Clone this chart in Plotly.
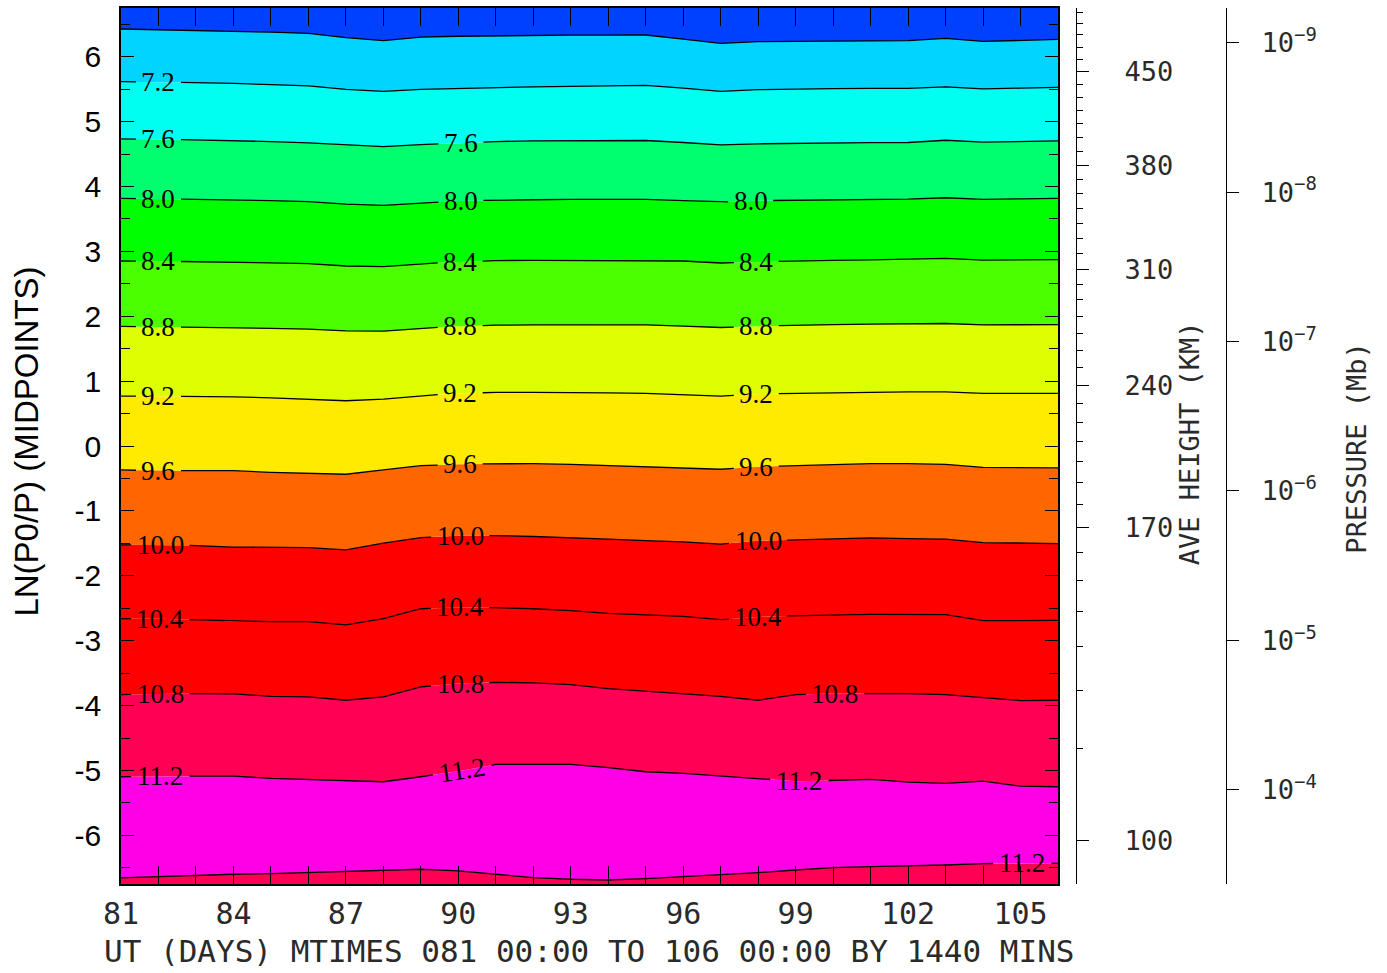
import numpy as np
import plotly.graph_objects as go

# ---------------- data ----------------
DAYS = list(range(81, 107))          # UT days 81 .. 106
LEV_BOTTOM, LEV_TOP = -6.75, 6.75     # LN(P0/P) midpoint range

# y position (LN(P0/P)) of each contour line for every day 81..106
C_6_8 = [6.426, 6.415, 6.400, 6.389, 6.377, 6.358, 6.292, 6.246, 6.300, 6.315, 6.323, 6.328, 6.331,
         6.331, 6.334, 6.269, 6.205, 6.231, 6.238, 6.242, 6.242, 6.246, 6.282, 6.235, 6.246, 6.266]
C_7_2 = [5.615, 5.608, 5.600, 5.589, 5.569, 5.549, 5.497, 5.466, 5.497, 5.512, 5.523, 5.534, 5.543,
         5.551, 5.558, 5.515, 5.466, 5.492, 5.503, 5.508, 5.511, 5.512, 5.534, 5.503, 5.515, 5.528]
C_7_6 = [4.734, 4.725, 4.717, 4.708, 4.692, 4.672, 4.642, 4.615, 4.646, 4.666, 4.692, 4.703, 4.708,
         4.708, 4.708, 4.677, 4.642, 4.657, 4.665, 4.669, 4.674, 4.677, 4.712, 4.682, 4.692, 4.703]
C_8_0 = [3.815, 3.809, 3.802, 3.795, 3.780, 3.765, 3.728, 3.708, 3.743, 3.774, 3.789, 3.795, 3.800,
         3.800, 3.800, 3.780, 3.758, 3.780, 3.789, 3.795, 3.800, 3.805, 3.826, 3.800, 3.808, 3.815]
C_8_4 = [2.851, 2.846, 2.842, 2.835, 2.823, 2.811, 2.774, 2.765, 2.811, 2.835, 2.857, 2.862, 2.862,
         2.862, 2.862, 2.851, 2.820, 2.835, 2.851, 2.862, 2.869, 2.877, 2.892, 2.866, 2.869, 2.872]
C_8_8 = [1.842, 1.837, 1.831, 1.826, 1.812, 1.800, 1.774, 1.769, 1.811, 1.846, 1.862, 1.866, 1.866,
         1.866, 1.866, 1.846, 1.826, 1.846, 1.862, 1.869, 1.877, 1.882, 1.888, 1.866, 1.869, 1.872]
C_9_2 = [0.769, 0.766, 0.762, 0.758, 0.742, 0.723, 0.697, 0.723, 0.774, 0.811, 0.826, 0.826, 0.826,
         0.818, 0.811, 0.785, 0.769, 0.800, 0.811, 0.820, 0.831, 0.835, 0.835, 0.811, 0.811, 0.811]
C_9_6 = [-0.369, -0.380, -0.380, -0.380, -0.405, -0.415, -0.435, -0.369, -0.303, -0.282, -0.272, -0.272, -0.282,
         -0.303, -0.318, -0.343, -0.358, -0.318, -0.303, -0.292, -0.272, -0.272, -0.282, -0.328, -0.338, -0.338]
C_10_0 = [-1.523, -1.523, -1.534, -1.558, -1.565, -1.565, -1.600, -1.497, -1.411, -1.385, -1.380, -1.395, -1.411,
          -1.435, -1.457, -1.477, -1.512, -1.462, -1.446, -1.435, -1.415, -1.426, -1.435, -1.488, -1.497, -1.503]
C_10_4 = [-2.662, -2.662, -2.677, -2.703, -2.708, -2.708, -2.758, -2.662, -2.508, -2.488, -2.492, -2.508, -2.538,
          -2.580, -2.600, -2.626, -2.677, -2.635, -2.615, -2.605, -2.595, -2.595, -2.600, -2.692, -2.692, -2.688]
C_10_8 = [-3.831, -3.820, -3.815, -3.820, -3.857, -3.866, -3.918, -3.866, -3.712, -3.662, -3.642, -3.651, -3.677,
          -3.738, -3.780, -3.815, -3.857, -3.918, -3.831, -3.815, -3.815, -3.815, -3.831, -3.872, -3.923, -3.918]
C_11_2_UP = [-5.097, -5.088, -5.088, -5.088, -5.123, -5.138, -5.149, -5.174, -5.097, -5.011, -4.908, -4.908, -4.908,
             -4.958, -5.020, -5.046, -5.088, -5.128, -5.165, -5.154, -5.138, -5.180, -5.200, -5.165, -5.242, -5.251]
C_11_2_LOW = [-6.657, -6.635, -6.615, -6.600, -6.589, -6.574, -6.558, -6.534, -6.523, -6.549, -6.600, -6.651, -6.677,
              -6.688, -6.666, -6.635, -6.615, -6.574, -6.534, -6.497, -6.482, -6.472, -6.457, -6.435, -6.431, -6.431]

# average height scale (km) and its LN(P0/P) position
HEIGHT_KM = list(range(100, 510, 10))
HEIGHT_LNP = [-6.077, -4.662, -3.769, -3.092, -2.554, -2.077, -1.646, -1.262, -0.908, -0.569, -0.246,
              0.077, 0.369, 0.662, 0.938, 1.215, 1.477, 1.738, 2.000, 2.262, 2.492, 2.723, 2.969, 3.200,
              3.431, 3.662, 3.892, 4.108, 4.323, 4.538, 4.754, 4.969, 5.169, 5.369, 5.569, 5.769, 5.954,
              6.138, 6.338, 6.508, 6.677]
HEIGHT_LABELED = [100, 170, 240, 310, 380, 450]

# pressure scale (mb): LN(P0/P) with P0 = 5e-7 mb
P0_MB = 5e-7
PRESSURE_EXP = [-4, -5, -6, -7, -8, -9]

X_TICKS = [81, 84, 87, 90, 93, 96, 99, 102, 105]
Y_TICKS = list(range(-6, 7))
X_TITLE = "UT (DAYS) MTIMES 081 00:00 TO 106 00:00 BY 1440 MINS"

# ---------------- styling ----------------
MONO = "DejaVu Sans Mono"
SANS = "Liberation Sans, Arial"
SERIF = "Liberation Serif, Times New Roman"
TXT = "#2a2a2a"

lines = [
    ("11.2", C_11_2_LOW, [(105.05, 0)]),
    ("11.2", C_11_2_UP, [(82.05, 0), (90.1, -9), (99.1, 0)]),
    ("10.8", C_10_8, [(82.05, 0), (90.05, 0), (100.05, 0)]),
    ("10.4", C_10_4, [(82.05, 0), (90.05, 0), (98.0, 0)]),
    ("10.0", C_10_0, [(82.05, 0), (90.05, 0), (98.0, 0)]),
    ("9.6", C_9_6, [(82.0, 0), (90.05, 0), (97.95, 0)]),
    ("9.2", C_9_2, [(82.0, 0), (90.05, 0), (97.95, 0)]),
    ("8.8", C_8_8, [(82.0, 0), (90.05, 0), (97.95, 0)]),
    ("8.4", C_8_4, [(82.0, 0), (90.05, 0), (97.95, 0)]),
    ("8.0", C_8_0, [(82.0, 0), (90.07, 0), (97.8, 0)]),
    ("7.6", C_7_6, [(82.0, 0), (90.07, 0)]),
    ("7.2", C_7_2, [(82.0, 0)]),
    ("6.8", C_6_8, []),
]
for _, arr, _ in lines:
    assert len(arr) == len(DAYS)

# band colours from bottom to top (between successive boundaries)
BAND_COLORS = ["#FF0055", "#FF00E6", "#FF0055", "#FF0000", "#FF0000", "#FF6600", "#FFEB00",
               "#DDFF00", "#4CFF00", "#00FF00", "#00FF6E", "#00FFF0", "#00D4FF", "#0040FF"]

fig = go.Figure()

# filled bands
bounds = [[LEV_BOTTOM] * len(DAYS)] + [l[1] for l in lines] + [[LEV_TOP] * len(DAYS)]
for i, b in enumerate(bounds):
    fig.add_trace(go.Scatter(
        x=DAYS, y=b, mode="lines", line=dict(width=0, color="rgba(0,0,0,0)"),
        fill="tonexty" if i > 0 else "none",
        fillcolor=BAND_COLORS[i - 1] if i > 0 else None,
        hoverinfo="skip", showlegend=False))


def visible_segments(ys, labels, text):
    hw = 0.6 if len(text) == 3 else 0.78
    gaps = sorted((d - hw, d + hw) for d, _ in labels)
    edges = [DAYS[0]]
    for a, b in gaps:
        edges += [a, b]
    edges.append(DAYS[-1])
    xs_out, ys_out = [], []
    for k in range(0, len(edges), 2):
        a, b = edges[k], edges[k + 1]
        if b <= a:
            continue
        seg = [a] + [d for d in DAYS if a < d < b] + [b]
        xs_out += seg + [None]
        ys_out += list(np.interp(seg, DAYS, ys)) + [None]
    return xs_out, ys_out


annotations = []
for text, ys, labels in lines:
    xs_l, ys_l = visible_segments(ys, labels, text)
    fig.add_trace(go.Scatter(x=xs_l, y=ys_l, mode="lines",
                             line=dict(color="black", width=1.3),
                             hoverinfo="skip", showlegend=False))
    for d, ang in labels:
        annotations.append(dict(
            x=d, y=float(np.interp(d, DAYS, ys)), xref="x", yref="y",
            text=text, showarrow=False, textangle=ang,
            font=dict(family=SERIF, size=27, color="black"),
            xanchor="center", yanchor="middle"))

# invisible anchors so the extra axes are drawn
fig.add_trace(go.Scatter(x=[DAYS[0]], y=[HEIGHT_LNP[0]], yaxis="y2", mode="markers",
                         marker=dict(opacity=0), hoverinfo="skip", showlegend=False))
fig.add_trace(go.Scatter(x=[DAYS[0]], y=[HEIGHT_LNP[0]], yaxis="y3", mode="markers",
                         marker=dict(opacity=0), hoverinfo="skip", showlegend=False))

h_major = [HEIGHT_LNP[HEIGHT_KM.index(h)] for h in HEIGHT_LABELED]
h_minor = [v for h, v in zip(HEIGHT_KM, HEIGHT_LNP) if h not in HEIGHT_LABELED]
p_vals = [float(np.log(P0_MB / 10.0 ** e)) for e in PRESSURE_EXP]
p_text = ["10<sup>\u2212%d</sup>" % (-e) for e in PRESSURE_EXP]

W, H = 1387, 973
ML, MR, MT, MB = 121, 20, 6, 89
PW = W - ML - MR


def px_to_paper_x(px):
    return (px - ML) / PW


XDOM_END = px_to_paper_x(1058)

fig.update_layout(
    width=W, height=H,
    margin=dict(l=ML, r=MR, t=MT, b=MB),
    paper_bgcolor="white", plot_bgcolor="white",
    showlegend=False,
    xaxis=dict(domain=[0, XDOM_END], range=[DAYS[0], DAYS[-1]],
               tickmode="array", tickvals=X_TICKS, ticktext=[str(v) for v in X_TICKS],
               ticks="inside", ticklen=18, tickwidth=1.2, tickcolor="black",
               minor=dict(tickvals=DAYS, ticks="inside", ticklen=9, tickwidth=1.2, tickcolor="black"),
               showline=True, linecolor="black", linewidth=1.5, mirror="allticks",
               showgrid=False, zeroline=False, ticklabelstandoff=2,
               tickfont=dict(family=MONO, size=30, color=TXT)),
    yaxis=dict(range=[LEV_BOTTOM, LEV_TOP], tickmode="array", tickvals=Y_TICKS,
               ticktext=[str(v) for v in Y_TICKS],
               ticks="inside", ticklen=13, tickwidth=1.2, tickcolor="black",
               minor=dict(tickvals=[v + 0.5 for v in range(-7, 7)], ticks="inside", ticklen=9,
                          tickwidth=1.2, tickcolor="black"),
               showline=True, linecolor="black", linewidth=1.5, mirror="allticks",
               showgrid=False, zeroline=False, ticklabelstandoff=12,
               tickfont=dict(family=SANS, size=30, color="black")),
    yaxis2=dict(overlaying="y", anchor="free", position=px_to_paper_x(1076), side="right",
                range=[LEV_BOTTOM, LEV_TOP], tickmode="array", tickvals=h_major,
                ticktext=[str(h) for h in HEIGHT_LABELED],
                ticks="outside", ticklen=12, tickwidth=1.2, tickcolor="black",
                minor=dict(tickvals=h_minor, ticks="outside", ticklen=6, tickwidth=1.2, tickcolor="black"),
                showline=True, linecolor="black", linewidth=1.3,
                showgrid=False, zeroline=False, ticklabelstandoff=30,
                tickfont=dict(family=MONO, size=27, color=TXT)),
    yaxis3=dict(overlaying="y", anchor="free", position=px_to_paper_x(1226), side="right",
                range=[LEV_BOTTOM, LEV_TOP], tickmode="array", tickvals=p_vals, ticktext=p_text,
                ticks="outside", ticklen=12, tickwidth=1.2, tickcolor="black",
                showline=True, linecolor="black", linewidth=1.3,
                showgrid=False, zeroline=False, ticklabelstandoff=17,
                tickfont=dict(family=MONO, size=27, color=TXT)),
    annotations=annotations + [
        dict(text="LN(P0/P) (MIDPOINTS)", xref="paper", yref="paper",
             x=px_to_paper_x(27), y=0.505, textangle=-90, showarrow=False,
             xanchor="center", yanchor="middle",
             font=dict(family=SANS, size=33, color="black")),
        dict(text="AVE HEIGHT (KM)", xref="paper", yref="paper",
             x=px_to_paper_x(1189), y=0.503, textangle=-90, showarrow=False,
             xanchor="center", yanchor="middle",
             font=dict(family=MONO, size=27, color=TXT)),
        dict(text="PRESSURE (Mb)", xref="paper", yref="paper",
             x=px_to_paper_x(1357), y=0.497, textangle=-90, showarrow=False,
             xanchor="center", yanchor="middle",
             font=dict(family=MONO, size=27, color=TXT)),
        dict(text=X_TITLE, xref="x domain", yref="paper",
             x=0.5, y=(884 - 951) / (H - MT - MB), showarrow=False,
             xanchor="center", yanchor="middle",
             font=dict(family=MONO, size=31, color=TXT)),
    ],
)

fig.write_html("out.html", config={"displayModeBar": False},
               post_script="document.body.style.margin='0';")
